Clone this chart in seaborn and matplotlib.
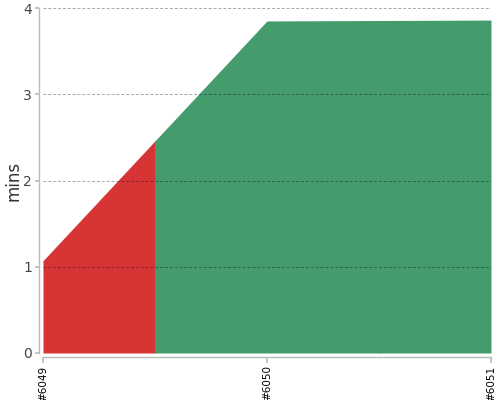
import matplotlib
matplotlib.use("Agg")
import matplotlib.pyplot as plt
import seaborn as sns
import pandas as pd
from matplotlib.patches import Rectangle

builds = ["#6049", "#6050", "#6051"]
durations = [1.07, 3.85, 3.86]
statuses = ["failed", "success", "success"]
status_colors = {"failed": "#d73535", "success": "#449c6d"}
yticks = [0, 1, 2, 3, 4]

df = pd.DataFrame({"pos": range(len(builds)), "mins": durations})

sns.set_theme(style="white")
plt.rcParams['font.family'] = ['DejaVu Sans']

fig = plt.figure(figsize=(5, 4), dpi=100)
ax = fig.add_axes([0.086, 0.1175, 0.896, 0.8625])

sns.lineplot(data=df, x="pos", y="mins", ax=ax, linewidth=0, color="#449c6d")
for i, st in enumerate(statuses):
    poly = ax.fill_between(df["pos"], 0, df["mins"], color=status_colors[st], linewidth=0, zorder=1)
    clip = Rectangle((i - 0.5, 0), 1.0, 10, transform=ax.transData)
    poly.set_clip_path(clip)

sns.despine(ax=ax, offset=3)
for s in ["left", "bottom"]:
    ax.spines[s].set_color("#bbbbbb")
    ax.spines[s].set_linewidth(1)

ax.set_xlim(0, len(builds) - 1)
ax.set_ylim(0, 4)
ax.set_yticks(yticks)
ax.set_xticks(range(len(builds)))
ax.set_xticklabels(builds, rotation=90, fontsize=7.5, color="black")
ax.tick_params(axis="y", labelsize=10, labelcolor="#444444", length=3, color="#bbbbbb", left=True, pad=2)
ax.tick_params(axis="x", length=4, color="#bbbbbb", bottom=True, pad=2)
ax.set_xlabel("")
ax.set_ylabel("mins", fontsize=12, color="#333333", labelpad=0.5)

ax.set_axisbelow(False)
ax.yaxis.grid(True, color="black", alpha=0.35, linestyle=(0, (3, 2)), linewidth=0.7, zorder=3)
ax.xaxis.grid(False)

fig.savefig("out.png", dpi=100)
